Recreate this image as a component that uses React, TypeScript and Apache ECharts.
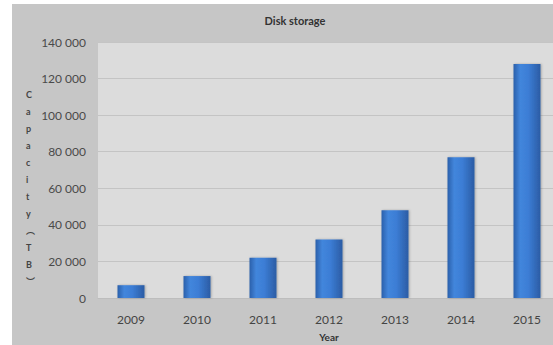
import React, { useEffect, useRef } from "react";
import * as echarts from "echarts";

const years = ["2009", "2010", "2011", "2012", "2013", "2014", "2015"];
const capacityTB = [7000, 12000, 22000, 32000, 48000, 77000, 128000];
const yTicks = { min: 0, max: 140000, interval: 20000 };
const titleText = "Disk storage";
const xName = "Year";
const yNameChars = ["C", "a", "p", "a", "c", "i", "t", "y", "︵", "T", "B", "︶"];

const FONT = "Lato, 'Liberation Sans', 'Noto Sans CJK SC', sans-serif";

function fmt(v: number): string {
  return String(v).replace(/\B(?=(\d{3})+(?!\d))/g, " ");
}

export default function App() {
  const ref = useRef<HTMLDivElement>(null);

  useEffect(() => {
    if (!ref.current) return;
    const chart = echarts.init(ref.current, undefined, { renderer: "svg" });
    chart.setOption({
      animation: false,
      backgroundColor: "#ffffff",
      title: {
        text: titleText,
        left: 290,
        top: 10,
        textAlign: "center",
        textStyle: { fontFamily: FONT, fontSize: 11, fontWeight: "bold", color: "#333" },
      },
      graphic: [
        {
          type: "rect",
          z: -10,
          silent: true,
          shape: { x: 12, y: 4, width: 560, height: 360 },
          style: { fill: "#c6c6c6" },
        },
        {
          type: "text",
          left: 26,
          top: 86,
          z: 10,
          style: {
            text: yNameChars.join("\n"),
            fontFamily: FONT,
            fontSize: 9,
            fontWeight: "bold",
            lineHeight: 17,
            fill: "#444",
            align: "center",
          },
        },
      ],
      grid: {
        left: 98,
        right: -7,
        top: 42,
        bottom: 47,
        outerBoundsMode: "none",
        containLabel: false,
        show: true,
        backgroundColor: "#dcdcdc",
        borderWidth: 0,
      },
      xAxis: {
        type: "category",
        data: years,
        name: xName,
        nameLocation: "middle",
        nameGap: 34,
        nameTextStyle: { fontFamily: FONT, fontSize: 10, fontWeight: "bold", color: "#333" },
        axisLine: { show: true, lineStyle: { color: "#bdbdbd", width: 1 } },
        axisTick: { show: false },
        axisLabel: { margin: 15, fontFamily: FONT, fontSize: 12, color: "#444" },
      },
      yAxis: {
        type: "value",
        min: yTicks.min,
        max: yTicks.max,
        interval: yTicks.interval,
        axisLine: { show: false },
        axisTick: { show: false },
        axisLabel: {
          margin: 12,
          fontFamily: FONT,
          fontSize: 12,
          color: "#4a4a4a",
          formatter: (v: number) => fmt(v),
        },
        splitLine: { lineStyle: { color: "#c4c4c4", width: 1 } },
      },
      series: [
        {
          type: "bar",
          data: capacityTB,
          barWidth: 27,
          itemStyle: {
            color: new echarts.graphic.LinearGradient(0, 0, 1, 0, [
              { offset: 0, color: "#2c60ab" },
              { offset: 0.25, color: "#4286dc" },
              { offset: 0.55, color: "#3c7dd5" },
              { offset: 1, color: "#2b5ca4" },
            ]),
            shadowColor: "rgba(0,0,0,0.25)",
            shadowBlur: 2,
            shadowOffsetX: 1,
          },
        },
      ],
    });
    return () => chart.dispose();
  }, []);

  return (
    <div
      ref={ref}
      style={{ position: "absolute", left: 0, top: 0, width: 553, height: 345, overflow: "hidden" }}
    />
  );
}
